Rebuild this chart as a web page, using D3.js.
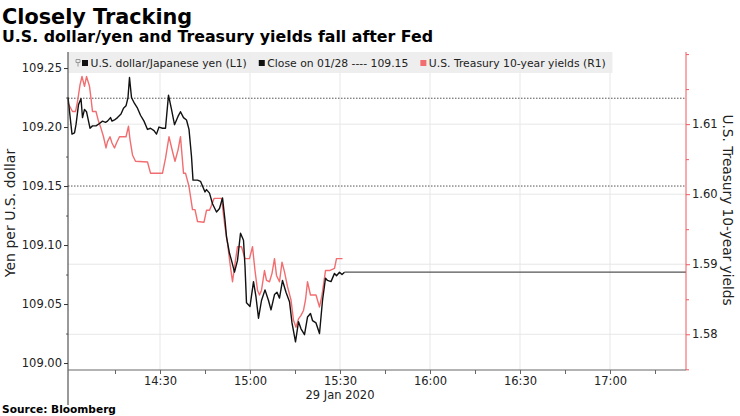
<!DOCTYPE html>
<html><head><meta charset="utf-8">
<script src="https://cdn.jsdelivr.net/npm/d3@7"></script>
<style>html,body{margin:0;padding:0;background:#fff;} svg{display:block;font-family:"DejaVu Sans",sans-serif;}</style>
</head><body><svg id="chart" width="740" height="416"></svg>
<script>
// ---------------- data ----------------
const usdTimes = ["13:59:20","14:00:40","14:01:30","14:02:00","14:02:50","14:03:40","14:04:10","14:04:50","14:05:30","14:06:40","14:07:30","14:08:40","14:09:50","14:10:50","14:11:50","14:12:30","14:13:30","14:14:00","14:14:50","14:15:50","14:17:00","14:17:50","14:18:40","14:19:20","14:19:50","14:20:30","14:21:30","14:22:30","14:23:30","14:24:40","14:25:50","14:26:50","14:28:00","14:28:50","14:29:40","14:30:50","14:31:50","14:32:50","14:33:50","14:34:50","14:36:00","14:36:50","14:37:50","14:38:50","14:39:40","14:40:30","14:41:00","14:42:30","14:43:30","14:45:00","14:45:30","14:46:30","14:47:30","14:48:50","14:49:50","14:50:50","14:51:40","14:52:10","14:53:10","14:53:50","14:54:50","14:55:50","14:56:50","14:57:50","14:58:20","14:58:50","15:00:00","15:01:10","15:02:00","15:02:50","15:03:50","15:05:00","15:06:10","15:07:00","15:08:10","15:09:00","15:09:50","15:10:50","15:12:00","15:13:10","15:14:00","15:15:10","15:16:10","15:17:00","15:18:10","15:19:10","15:20:10","15:20:50","15:22:00","15:23:10","15:24:10","15:25:10","15:25:50","15:27:00","15:28:10","15:28:50","15:29:50","15:30:40","15:31:30"];
const usdValues = [109.225,109.194,109.195,109.202,109.219,109.224,109.208,109.215,109.213,109.199,109.201,109.201,109.203,109.205,109.204,109.205,109.208,109.205,109.206,109.208,109.211,109.216,109.218,109.225,109.242,109.225,109.220,109.216,109.210,109.205,109.198,109.199,109.197,109.194,109.200,109.199,109.199,109.227,109.215,109.202,109.209,109.213,109.208,109.206,109.198,109.175,109.155,109.155,109.154,109.145,109.147,109.144,109.135,109.128,109.131,109.140,109.121,109.107,109.093,109.087,109.077,109.087,109.110,109.104,109.082,109.051,109.048,109.069,109.056,109.038,109.053,109.062,109.053,109.045,109.058,109.060,109.055,109.070,109.060,109.052,109.034,109.018,109.035,109.029,109.024,109.039,109.042,109.036,109.034,109.025,109.053,109.072,109.070,109.069,109.076,109.074,109.077,109.075,109.077];
const ustTimes = ["13:59:20","14:00:50","14:01:50","14:02:30","14:03:20","14:04:00","14:04:50","14:05:30","14:06:30","14:07:00","14:07:30","14:08:40","14:09:30","14:10:20","14:11:10","14:12:00","14:12:30","14:13:20","14:14:00","14:14:50","14:15:30","14:16:30","14:18:40","14:19:30","14:20:00","14:20:50","14:21:50","14:25:50","14:26:50","14:30:50","14:31:50","14:33:00","14:34:10","14:35:00","14:36:00","14:36:50","14:37:50","14:38:30","14:39:40","14:40:50","14:41:40","14:42:30","14:44:40","14:45:30","14:46:30","14:47:10","14:48:00","14:50:30","14:51:40","14:52:30","14:53:20","14:54:10","14:55:00","14:55:50","14:57:10","14:58:20","14:59:50","15:00:50","15:01:40","15:02:30","15:03:10","15:03:50","15:04:50","15:05:30","15:06:30","15:07:20","15:08:10","15:08:50","15:09:50","15:10:40","15:11:30","15:12:30","15:13:40","15:14:30","15:15:20","15:16:10","15:17:00","15:17:50","15:18:30","15:19:10","15:20:10","15:22:00","15:23:10","15:24:00","15:25:10","15:26:30","15:28:10","15:28:50","15:30:50"];
const ustValues = [1.6130,1.6118,1.6118,1.6132,1.6156,1.6168,1.6154,1.6168,1.6154,1.6137,1.6118,1.6118,1.6104,1.6094,1.6082,1.6066,1.6075,1.6082,1.6073,1.6066,1.6073,1.6082,1.6082,1.6097,1.6078,1.6056,1.6047,1.6046,1.6030,1.6030,1.6051,1.6082,1.6061,1.6047,1.6063,1.6082,1.6030,1.6030,1.6011,1.5978,1.5978,1.5961,1.5960,1.5977,1.5977,1.5984,1.5994,1.5994,1.5953,1.5930,1.5901,1.5875,1.5901,1.5925,1.5925,1.5908,1.5908,1.5925,1.5891,1.5863,1.5856,1.5863,1.5891,1.5877,1.5875,1.5887,1.5908,1.5884,1.5875,1.5903,1.5889,1.5868,1.5849,1.5820,1.5810,1.5822,1.5827,1.5834,1.5849,1.5875,1.5856,1.5856,1.5839,1.5856,1.5891,1.5891,1.5894,1.5908,1.5908];
const closeValue = 109.15;        // USD/JPY close on 01/28 (left axis)
const yieldPrevClose = 1.6137;    // Treasury close on 01/28 (right axis)
const leftTicks = [109.00,109.05,109.10,109.15,109.20,109.25];
const leftMinorTicks = [109.025,109.075,109.125,109.175,109.225];
const rightTicks = [1.58,1.59,1.60,1.61];
const rightMinorTicks = [1.575,1.585,1.595,1.605,1.615,1.62];
const xTickLabels = ["14:30","15:00","15:30","16:00","16:30","17:00"];
const xMinorTicks = ["14:15","14:45","15:15","15:45","16:15","16:45","17:15"];
const xDomain = ["13:59:20","17:25:20"];
const dateLabel = "29 Jan 2020";
const legendLabels = ["U.S. dollar/Japanese yen (L1)","Close on 01/28 ---- 109.15","U.S. Treasury 10-year yields (R1)"];
const titleText = "Closely Tracking";
const subtitleText = "U.S. dollar/yen and Treasury yields fall after Fed";
const sourceText = "Source: Bloomberg";
const leftTitle = "Yen per U.S. dollar";
const rightTitle = "U.S. Treasury 10-year yields";

// ---------------- chart ----------------
const svg = d3.select("#chart");
const parseS = d3.timeParse("%H:%M:%S"), parseM = d3.timeParse("%H:%M");
const L = 68, R = 686, T = 52, B = 370;
const BLACK = "#111", RED = "#f26d6f", RED_AXIS = "#ee5a5e", GRID = "#e7e7e7";

const x = d3.scaleTime().domain(xDomain.map(parseS)).range([L, R]);
const yL = d3.scaleLinear().domain([108.9941, 109.2636]).range([B, T]);
const yR = d3.scaleLinear().domain([1.5749, 1.6203]).range([B, T]);

const usd = usdTimes.map((t, i) => ({t: parseS(t), v: usdValues[i]}));
const ust = ustTimes.map((t, i) => ({t: parseS(t), v: ustValues[i]}));

// gridlines
svg.append("g").selectAll("line").data(xTickLabels).join("line")
  .attr("x1", d => x(parseM(d))).attr("x2", d => x(parseM(d)))
  .attr("y1", T).attr("y2", B).attr("stroke", GRID).attr("stroke-width", 1);
svg.append("g").selectAll("line").data(rightTicks).join("line")
  .attr("x1", L).attr("x2", R).attr("y1", d => yR(d)).attr("y2", d => yR(d))
  .attr("stroke", GRID).attr("stroke-width", 1);

// reference dotted lines
svg.append("line").attr("x1", L).attr("x2", R).attr("y1", yL(closeValue)).attr("y2", yL(closeValue))
  .attr("stroke", "#555").attr("stroke-width", 1).attr("stroke-dasharray", "1.5,1.5");
svg.append("line").attr("x1", L).attr("x2", R).attr("y1", yR(yieldPrevClose)).attr("y2", yR(yieldPrevClose))
  .attr("stroke", "#555").attr("stroke-width", 1).attr("stroke-dasharray", "1.5,1.5");

// legend background
svg.append("rect").attr("x", L + 0.5).attr("y", T).attr("width", 544).attr("height", 21)
  .attr("fill", "#ececec").attr("fill-opacity", 0.88);

// series
const lineL = d3.line().x(d => x(d.t)).y(d => yL(d.v));
const lineR = d3.line().x(d => x(d.t)).y(d => yR(d.v));
const last = usd[usd.length - 1];
svg.append("path").datum([last, {t: x.domain()[1], v: last.v}]).attr("d", lineL)
  .attr("fill", "none").attr("stroke", "#555").attr("stroke-width", 1.2);
svg.append("path").datum(ust).attr("d", lineR).attr("fill", "none")
  .attr("stroke", RED).attr("stroke-width", 1.4).attr("stroke-linejoin", "round");
svg.append("path").datum(usd).attr("d", lineL).attr("fill", "none")
  .attr("stroke", BLACK).attr("stroke-width", 1.4).attr("stroke-linejoin", "round");

// left axis
const gL = svg.append("g").attr("transform", `translate(${L},0)`)
  .call(d3.axisLeft(yL).tickValues(leftTicks).tickFormat(d3.format(".2f")).tickSize(4).tickPadding(2));
gL.select(".domain").remove();
gL.selectAll("text").attr("font-size", "11.5px").attr("fill", "#222").style("font-family", "DejaVu Sans");
gL.selectAll("line").attr("stroke", "#333");
const gLm = svg.append("g").attr("transform", `translate(${L},0)`)
  .call(d3.axisLeft(yL).tickValues(leftMinorTicks).tickFormat("").tickSize(2));
gLm.select(".domain").remove(); gLm.selectAll("line").attr("stroke", "#666");
svg.append("line").attr("x1", L).attr("x2", L).attr("y1", T).attr("y2", 405).attr("stroke", "#333");

// right axis
const gR = svg.append("g").attr("transform", `translate(${R},0)`)
  .call(d3.axisRight(yR).tickValues(rightTicks).tickFormat(d3.format(".2f")).tickSize(4).tickPadding(2));
gR.select(".domain").remove();
gR.selectAll("text").attr("font-size", "11.5px").attr("fill", "#222").style("font-family", "DejaVu Sans");
gR.selectAll("line").attr("stroke", RED_AXIS);
const gRm = svg.append("g").attr("transform", `translate(${R},0)`)
  .call(d3.axisRight(yR).tickValues(rightMinorTicks).tickFormat("").tickSize(3));
gRm.select(".domain").remove(); gRm.selectAll("line").attr("stroke", RED_AXIS);
svg.append("line").attr("x1", R).attr("x2", R).attr("y1", T).attr("y2", B).attr("stroke", RED_AXIS);

// bottom axis
const gB = svg.append("g").attr("transform", `translate(0,${B})`)
  .call(d3.axisBottom(x).tickValues(xTickLabels.map(parseM)).tickFormat(d3.timeFormat("%H:%M")).tickSize(4).tickPadding(3));
gB.select(".domain").remove();
gB.selectAll("text").attr("font-size", "11.5px").attr("fill", "#222").style("font-family", "DejaVu Sans");
gB.selectAll("line").attr("stroke", "#666");
const gBm = svg.append("g").attr("transform", `translate(0,${B})`)
  .call(d3.axisBottom(x).tickValues(xMinorTicks.map(parseM)).tickFormat("").tickSize(4));
gBm.select(".domain").remove(); gBm.selectAll("line").attr("stroke", "#666");
svg.append("line").attr("x1", L).attr("x2", R).attr("y1", B).attr("y2", B).attr("stroke", "#666");
svg.append("text").attr("x", x(parseM("15:30"))).attr("y", 399).attr("text-anchor", "middle")
  .attr("font-size", "11.5px").attr("fill", "#222").text(dateLabel);

// axis titles
svg.append("text").attr("transform", "translate(15,213) rotate(-90)").attr("text-anchor", "middle")
  .attr("font-size", "14px").attr("fill", "#222").text(leftTitle);
svg.append("text").attr("transform", "translate(723,210) rotate(90)").attr("text-anchor", "middle")
  .attr("font-size", "13.7px").attr("fill", "#222").text(rightTitle);

// legend items
const lg = svg.append("g").attr("font-size", "10.8px").attr("fill", "#222");
// pin icon
lg.append("path").attr("d", "M76,59.5h4v3h-4z M78,62.5v4").attr("fill", "none").attr("stroke", "#999").attr("stroke-width", 1);
const sw = [BLACK, BLACK, RED];
let cx = 82;
legendLabels.forEach((lab, i) => {
  lg.append("rect").attr("x", cx).attr("y", 60).attr("width", 6).attr("height", 6).attr("fill", sw[i]);
  const t = lg.append("text").attr("x", cx + 8.5).attr("y", 67).text(lab);
  cx = cx + 8.5 + t.node().getComputedTextLength() + 12;
});

// titles
svg.append("text").attr("x", 2).attr("y", 24).attr("font-size", "20.8px").attr("font-weight", "bold")
  .attr("fill", "#000").text(titleText);
svg.append("text").attr("x", 2).attr("y", 42).attr("font-size", "15.8px").attr("font-weight", "bold")
  .attr("fill", "#000").text(subtitleText);
svg.append("text").attr("x", 2).attr("y", 413).attr("font-size", "10.6px").attr("font-weight", "bold")
  .attr("fill", "#000").text(sourceText);
</script></body></html>
